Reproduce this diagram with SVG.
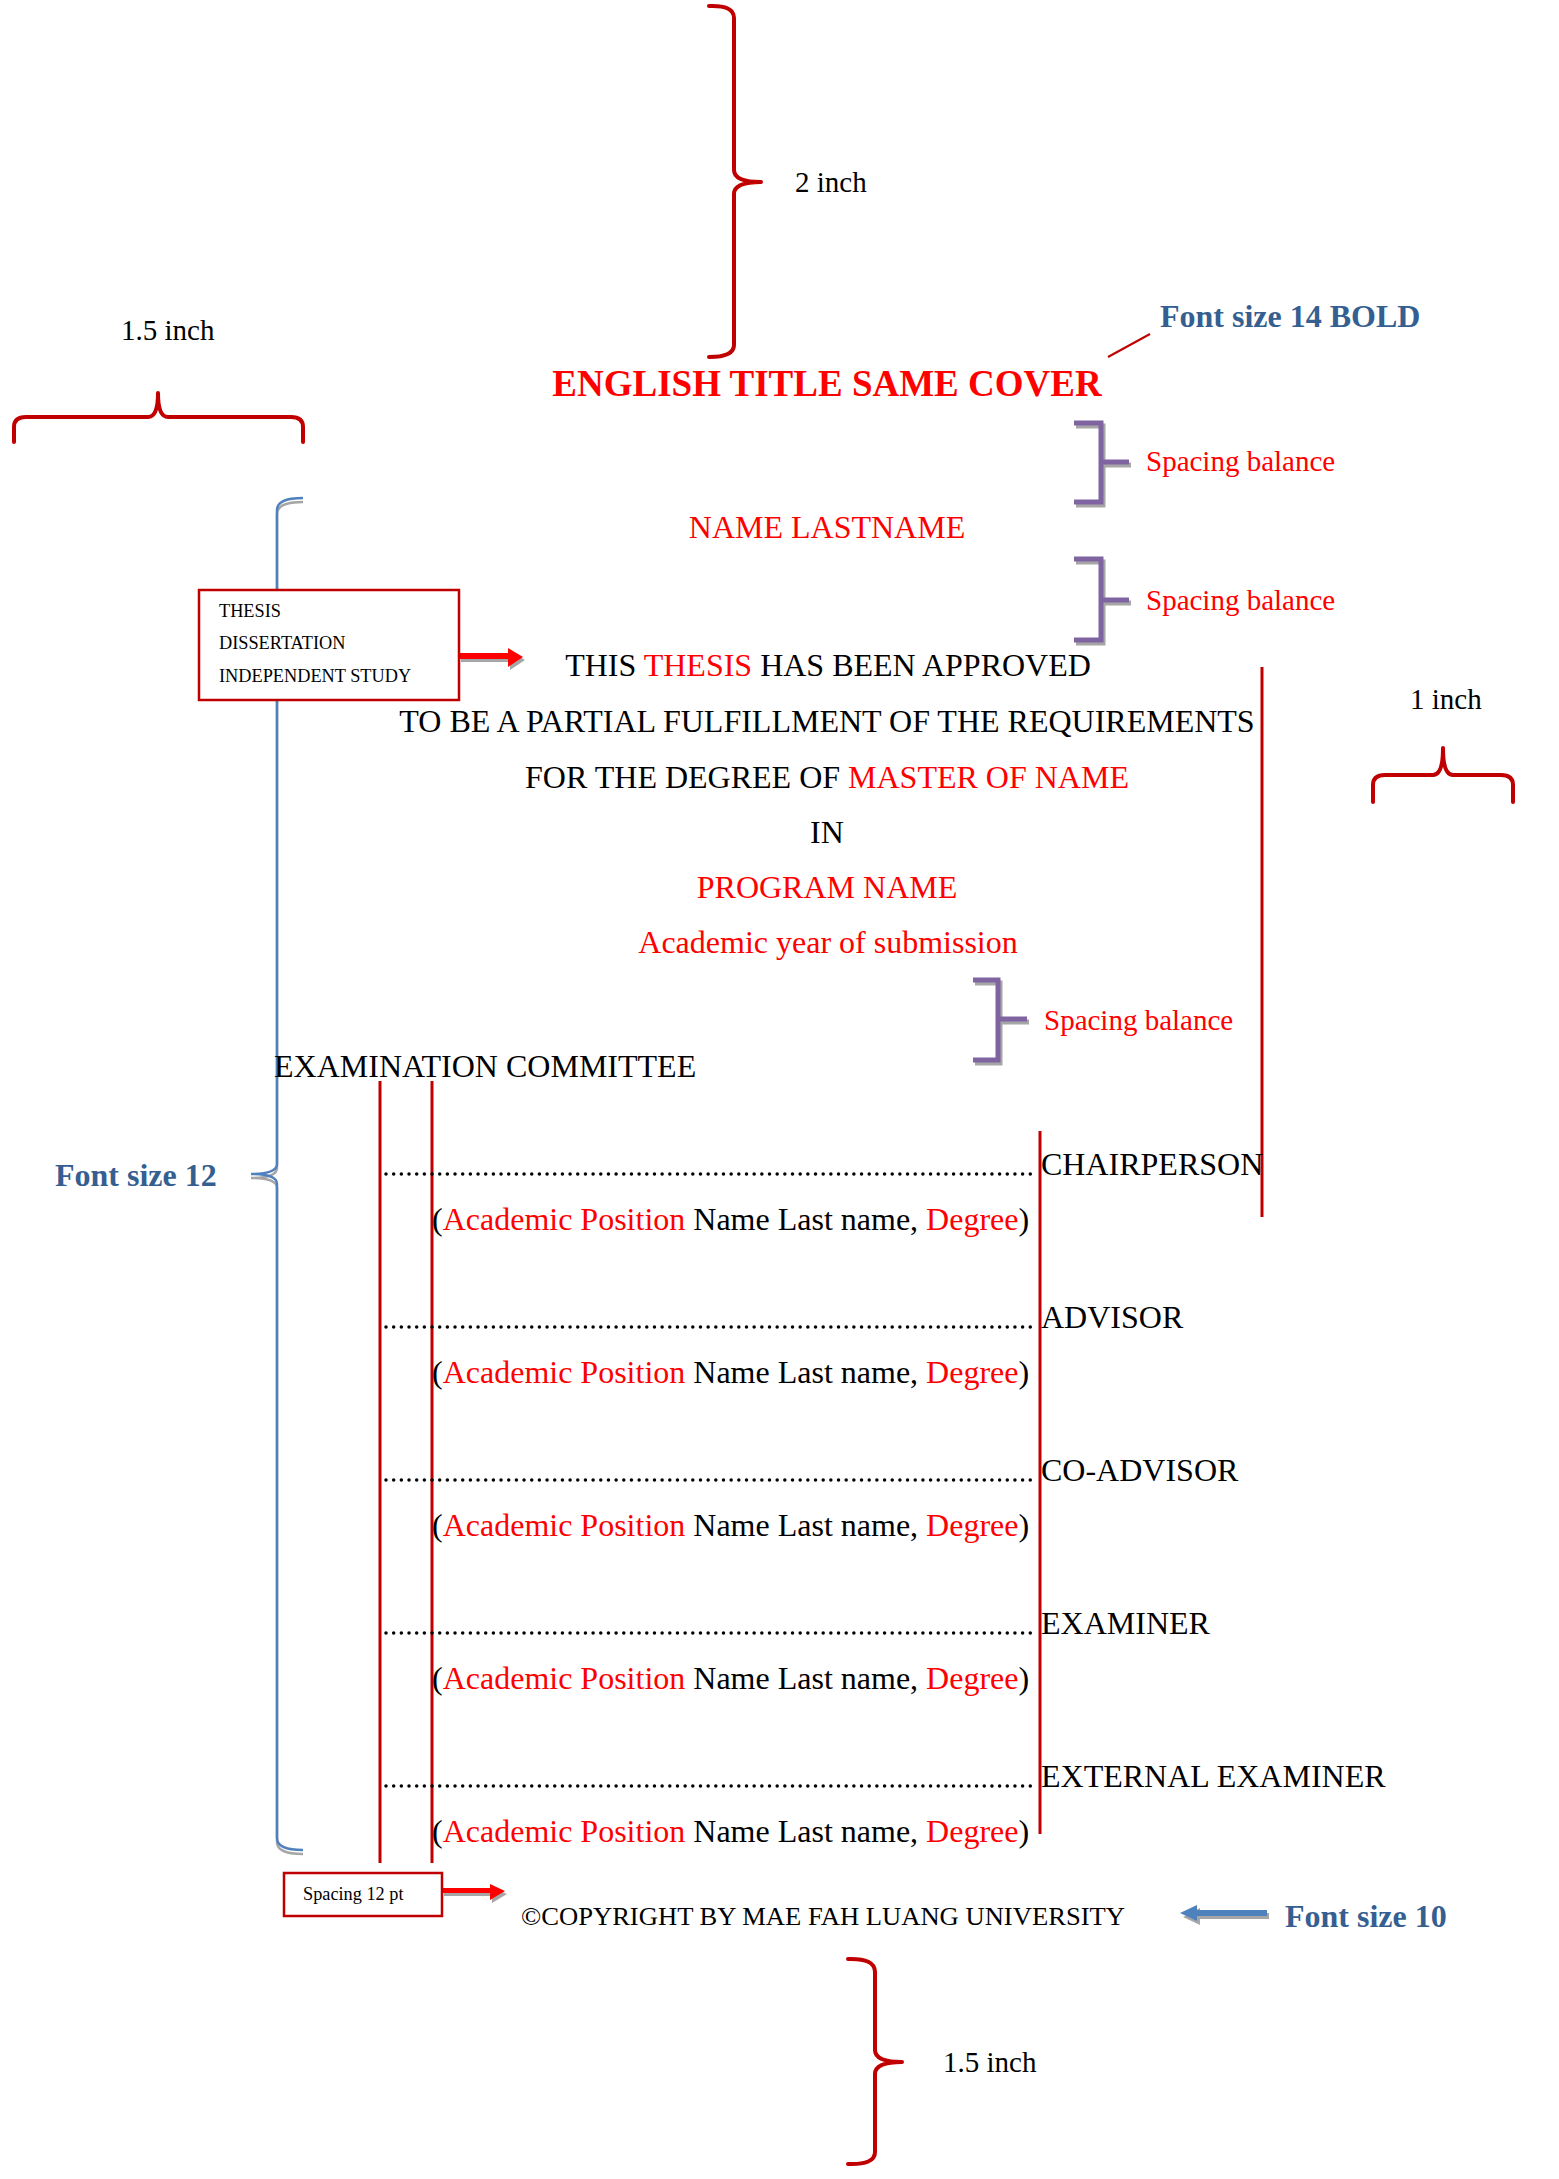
<svg xmlns="http://www.w3.org/2000/svg" width="1559" height="2179" viewBox="0 0 1559 2179">
<defs>
<style>
text{font-family:"Liberation Serif","Times New Roman",serif;}
.t{font-size:32px;fill:#000;}
.c{text-anchor:middle;}
.r{fill:#FF0000;}
.lbl{font-size:29px;fill:#000;}
.sp{font-size:29px;fill:#FF0000;}
.blue{font-size:32px;font-weight:bold;fill:#365F91;}
.brace{fill:none;stroke:#C00000;stroke-width:4;stroke-linecap:round;stroke-linejoin:round;}
.vline{stroke:#C00000;stroke-width:3;}
.dots{stroke:#000;stroke-width:3.5;stroke-linecap:round;stroke-dasharray:0 7.67;}
.pur{fill:none;stroke:#8064A2;stroke-width:5;}
.purs{fill:none;stroke:#A6A6A6;stroke-width:5;}
.box{fill:#fff;stroke:#C00000;stroke-width:2.5;}
.small{font-size:18.3px;fill:#000;}
.shadow{fill:#A6A6A6;}
</style>
</defs>
<rect width="1559" height="2179" fill="#fff"/>

<g id="connectors">
  <line class="vline" x1="380" y1="1081" x2="380" y2="1863"/>
  <line class="vline" x1="432" y1="1081" x2="432" y2="1863"/>
  <line class="vline" x1="1040" y1="1131" x2="1040" y2="1834"/>
  <line class="vline" x1="1262" y1="667" x2="1262" y2="1217"/>
  <line class="dots" x1="386" y1="1174" x2="1037" y2="1174"/>
  <line class="dots" x1="386" y1="1327" x2="1037" y2="1327"/>
  <line class="dots" x1="386" y1="1480" x2="1037" y2="1480"/>
  <line class="dots" x1="386" y1="1633" x2="1037" y2="1633"/>
  <line class="dots" x1="386" y1="1786" x2="1037" y2="1786"/>
  <line x1="1108" y1="357" x2="1150" y2="334" stroke="#C00000" stroke-width="2"/>
  <path class="shadow" d="M461 656 H510 V651 L525 660 L510 670 V662 H461 Z"/>
  <path fill="#FF0000" d="M459 653 H508 V648 L523 657 L508 667 V659 H459 Z"/>
  <path class="shadow" d="M444 1891 H492 V1887 L507 1894 L492 1903 V1896 H444 Z"/>
  <path fill="#FF0000" d="M442 1888 H490 V1884 L505 1891 L490 1900 V1893 H442 Z"/>
  <path class="shadow" d="M1269 1913 H1200 V1908 L1183 1917 L1200 1925 V1919 H1269 Z"/>
  <path fill="#4F81BD" d="M1267 1910 H1197 V1905 L1180 1913 L1197 1921 V1916 H1267 Z"/>
</g>

<g id="brace-2inch">
  <path class="brace" d="M709 6 Q734 5 734 18 V170 Q734 182 761 182 Q734 182 734 194 V345 Q734 357 709 357"/>
  <text class="lbl" x="795" y="192">2 inch</text>
</g>

<g id="brace-left-1_5inch">
  <path class="brace" d="M14 442 V427 Q14 417 26 417 H148 Q158 417 158 393 Q158 417 168 417 H291 Q303 417 303 427 V442"/>
  <text class="lbl" x="121" y="340">1.5 inch</text>
</g>

<g id="brace-1inch">
  <path class="brace" d="M1373 802 V785 Q1373 775 1385 775 H1433 Q1443 775 1443 748 Q1443 775 1453 775 H1501 Q1513 775 1513 785 V802"/>
  <text class="lbl" x="1410" y="709">1 inch</text>
</g>

<g id="brace-bottom-1_5inch">
  <path class="brace" d="M848 1959 Q875 1958 875 1972 V2050 Q875 2062 902 2062 Q875 2062 875 2074 V2152 Q875 2165 848 2164"/>
  <text class="lbl" x="943" y="2072">1.5 inch</text>
</g>

<g id="title">
  <text class="c" x="827" y="396" font-size="37" font-weight="bold" fill="#FF0000">ENGLISH TITLE SAME COVER</text>
</g>

<g id="label-font14">
  <text class="blue" x="1160" y="327">Font size 14 BOLD</text>
</g>

<g id="spacing-1">
  <path class="purs" d="M1076 426 H1103 V505 H1076 M1103 465 H1131"/>
  <path class="pur" d="M1074 423 H1101 V502 H1074 M1101 462 H1129"/>
  <text class="sp" x="1146" y="471">Spacing balance</text>
</g>

<g id="name">
  <text class="t c r" x="827" y="538">NAME LASTNAME</text>
</g>

<g id="spacing-2">
  <path class="purs" d="M1076 562 H1103 V643 H1076 M1103 603 H1131"/>
  <path class="pur" d="M1074 559 H1101 V640 H1074 M1101 600 H1129"/>
  <text class="sp" x="1146" y="610">Spacing balance</text>
</g>

<g id="font12-brace">
  <path fill="none" stroke="#A6A6A6" stroke-width="2.5" d="M303 502 Q277 502 277 514 V1168 Q277 1178 251 1178 Q277 1178 277 1188 V1842 Q277 1854 303 1854"/>
  <path fill="none" stroke="#4F81BD" stroke-width="2.5" d="M303 498 Q277 498 277 510 V1164 Q277 1174 251 1174 Q277 1174 277 1184 V1838 Q277 1850 303 1850"/>
  <text class="blue" x="55" y="1186">Font size 12</text>
</g>

<g id="thesis-box">
  <rect class="box" x="199" y="590" width="260" height="110"/>
  <text class="small" x="219" y="617">THESIS</text>
  <text class="small" x="219" y="649">DISSERTATION</text>
  <text class="small" x="219" y="682">INDEPENDENT STUDY</text>
</g>

<g id="approval">
  <text class="t c" x="828" y="676">THIS <tspan class="r">THESIS</tspan> HAS BEEN APPROVED</text>
  <text class="t c" x="827" y="732">TO BE A PARTIAL FULFILLMENT OF THE REQUIREMENTS</text>
  <text class="t c" x="827" y="788">FOR THE DEGREE OF <tspan class="r">MASTER OF NAME</tspan></text>
  <text class="t c" x="827" y="843">IN</text>
  <text class="t c r" x="827" y="898">PROGRAM NAME</text>
  <text class="t c r" x="828" y="953">Academic year of submission</text>
</g>

<g id="spacing-3">
  <path class="purs" d="M975 983 H1000 V1063 H975 M1000 1022 H1029"/>
  <path class="pur" d="M973 980 H998 V1060 H973 M998 1019 H1027"/>
  <text class="sp" x="1044" y="1030">Spacing balance</text>
</g>

<g id="committee">
  <text class="t" x="274" y="1077">EXAMINATION COMMITTEE</text>
</g>

<g id="chairperson">
  <text class="t" x="1041" y="1175">CHAIRPERSON</text>
  <text class="t" x="432" y="1230">(<tspan class="r">Academic Position</tspan> Name Last name, <tspan class="r">Degree</tspan>)</text>
</g>
<g id="advisor">
  <text class="t" x="1041" y="1328">ADVISOR</text>
  <text class="t" x="432" y="1383">(<tspan class="r">Academic Position</tspan> Name Last name, <tspan class="r">Degree</tspan>)</text>
</g>
<g id="co-advisor">
  <text class="t" x="1041" y="1481">CO-ADVISOR</text>
  <text class="t" x="432" y="1536">(<tspan class="r">Academic Position</tspan> Name Last name, <tspan class="r">Degree</tspan>)</text>
</g>
<g id="examiner">
  <text class="t" x="1041" y="1634">EXAMINER</text>
  <text class="t" x="432" y="1689">(<tspan class="r">Academic Position</tspan> Name Last name, <tspan class="r">Degree</tspan>)</text>
</g>
<g id="external-examiner">
  <text class="t" x="1041" y="1787">EXTERNAL EXAMINER</text>
  <text class="t" x="432" y="1842">(<tspan class="r">Academic Position</tspan> Name Last name, <tspan class="r">Degree</tspan>)</text>
</g>

<g id="spacing-box">
  <rect class="box" x="284" y="1873" width="158" height="43"/>
  <text class="small" x="303" y="1900" font-size="17">Spacing 12 pt</text>
</g>

<g id="copyright">
  <text x="521" y="1925" font-size="26.2" fill="#000" textLength="604" lengthAdjust="spacingAndGlyphs">©COPYRIGHT BY MAE FAH LUANG UNIVERSITY</text>
</g>

<g id="label-font10">
  <text class="blue" x="1285" y="1927">Font size 10</text>
</g>
</svg>
